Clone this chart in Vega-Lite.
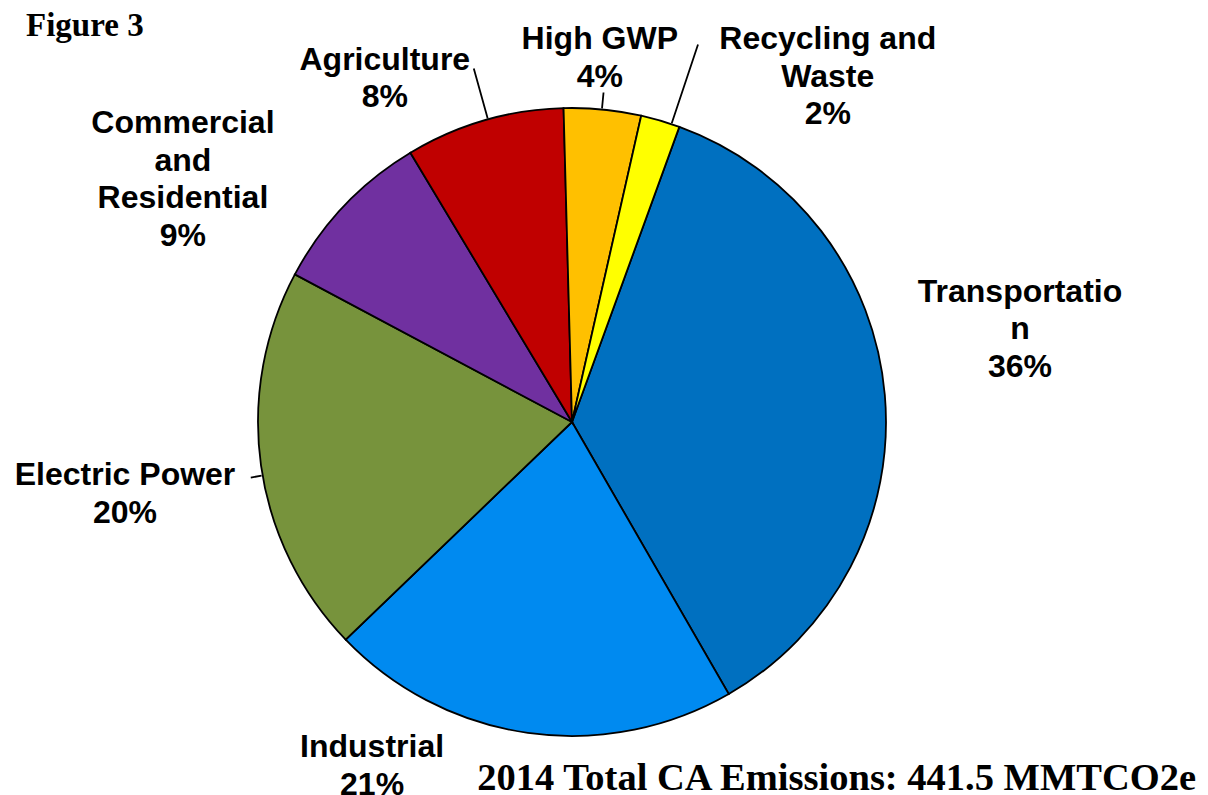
{
  "$schema": "https://vega.github.io/schema/vega-lite/v6.json",
  "padding": {"left": 0, "top": 10, "right": 0, "bottom": 0},
  "background": "white",
  "title": {
    "text": "Figure 3",
    "anchor": "start",
    "frame": "group",
    "font": "Liberation Serif",
    "fontSize": 33,
    "fontWeight": "bold",
    "color": "black",
    "baseline": "alphabetic",
    "offset": 0,
    "dx": 26,
    "dy": 46
  },
  "data": {
    "values": [
      {"category": "Transportation", "value": 159.5, "label": "Transportatio\nn\n36%"},
      {"category": "Industrial", "value": 93.3, "label": "Industrial\n21%"},
      {"category": "Electric Power", "value": 88.2, "label": "Electric Power\n20%"},
      {"category": "Commercial and Residential", "value": 38.0, "label": "Commercial\nand\nResidential\n9%"},
      {"category": "Agriculture", "value": 36.1, "label": "Agriculture\n8%"},
      {"category": "High GWP", "value": 17.5, "label": "High GWP\n4%"},
      {"category": "Recycling and Waste", "value": 8.9, "label": "Recycling and\nWaste\n2%"}
    ]
  },
  "vconcat": [
    {
      "width": 1144,
      "height": 746,
      "title": {
        "text": "2014 Total CA Emissions: 441.5 MMTCO2e",
        "orient": "bottom",
        "anchor": "end",
        "frame": "group",
        "font": "Liberation Serif",
        "fontSize": 38.5,
        "fontWeight": "bold",
        "color": "black",
        "baseline": "alphabetic",
        "offset": 0,
        "dx": 52,
        "dy": -11
      },
      "transform": [
        {"stack": "value", "groupby": [], "sort": [{"field": "value", "order": "descending"}], "as": ["v0", "v1"]}
      ],
      "layer": [
        {
          "mark": {"type": "arc", "outerRadius": 314, "stroke": "black", "strokeWidth": 1.8},
          "encoding": {
            "theta": {"field": "value", "type": "quantitative", "stack": true, "scale": {"range": [0.349, 6.632]}},
            "order": {"field": "value", "type": "quantitative", "sort": "descending"},
            "color": {
              "field": "category",
              "type": "nominal",
              "scale": {
                "domain": ["Transportation", "Industrial", "Electric Power", "Commercial and Residential", "Agriculture", "High GWP", "Recycling and Waste"],
                "range": ["#0070C0", "#008AF0", "#77933C", "#7030A0", "#C00000", "#FFC000", "#FFFF00"]
              },
              "legend": null
            }
          }
        },
        {
          "transform": [{"filter": "datum.category === 'Agriculture'"}],
          "mark": {"type": "arc", "innerRadius": 315, "outerRadius": 367, "thetaOffset": 0.2697, "theta2Offset": 0.2697, "fill": "transparent", "stroke": "black", "strokeWidth": 1.8},
          "encoding": {"theta": {"field": "v0", "type": "quantitative", "stack": null}, "theta2": {"field": "v0"}}
        },
        {
          "transform": [{"filter": "datum.category === 'High GWP'"}],
          "mark": {"type": "arc", "innerRadius": 315, "outerRadius": 331, "thetaOffset": 0.1223, "theta2Offset": 0.1223, "fill": "transparent", "stroke": "black", "strokeWidth": 1.8},
          "encoding": {"theta": {"field": "v0", "type": "quantitative", "stack": null}, "theta2": {"field": "v0"}}
        },
        {
          "transform": [{"filter": "datum.category === 'Recycling and Waste'"}],
          "mark": {"type": "arc", "innerRadius": 315, "outerRadius": 398, "thetaOffset": 0.1, "theta2Offset": 0.1, "fill": "transparent", "stroke": "black", "strokeWidth": 1.8},
          "encoding": {"theta": {"field": "v0", "type": "quantitative", "stack": null}, "theta2": {"field": "v0"}}
        },
        {
          "transform": [{"filter": "datum.category === 'Electric Power'"}],
          "mark": {"type": "arc", "innerRadius": 315, "outerRadius": 326, "thetaOffset": 0.5945, "theta2Offset": 0.5945, "fill": "transparent", "stroke": "black", "strokeWidth": 1.8},
          "encoding": {"theta": {"field": "v0", "type": "quantitative", "stack": null}, "theta2": {"field": "v0"}}
        },
        {
          "transform": [{"filter": "datum.category === 'Transportation'"}],
          "mark": {"type": "text", "radius": 466.5, "thetaOffset": 0.9393, "font": "Liberation Sans", "fontSize": 32, "fontWeight": "bold", "lineBreak": "\n", "lineHeight": 37.5, "align": "center", "baseline": "middle", "color": "black"},
          "encoding": {"theta": {"field": "v0", "type": "quantitative", "stack": null}, "text": {"field": "label"}}
        },
        {
          "transform": [{"filter": "datum.category === 'Industrial'"}],
          "mark": {"type": "text", "radius": 381.6, "thetaOffset": 1.0742, "font": "Liberation Sans", "fontSize": 32, "fontWeight": "bold", "lineBreak": "\n", "lineHeight": 37.5, "align": "center", "baseline": "middle", "color": "black"},
          "encoding": {"theta": {"field": "v0", "type": "quantitative", "stack": null}, "text": {"field": "label"}}
        },
        {
          "transform": [{"filter": "datum.category === 'Electric Power'"}],
          "mark": {"type": "text", "radius": 450.1, "thetaOffset": 0.6475, "font": "Liberation Sans", "fontSize": 32, "fontWeight": "bold", "lineBreak": "\n", "lineHeight": 37.5, "align": "center", "baseline": "middle", "color": "black"},
          "encoding": {"theta": {"field": "v0", "type": "quantitative", "stack": null}, "text": {"field": "label"}}
        },
        {
          "transform": [{"filter": "datum.category === 'Commercial and Residential'"}],
          "mark": {"type": "text", "radius": 490.6, "thetaOffset": 0.1656, "font": "Liberation Sans", "fontSize": 32, "fontWeight": "bold", "lineBreak": "\n", "lineHeight": 37.5, "align": "center", "baseline": "middle", "color": "black"},
          "encoding": {"theta": {"field": "v0", "type": "quantitative", "stack": null}, "text": {"field": "label"}}
        },
        {
          "transform": [{"filter": "datum.category === 'Agriculture'"}],
          "mark": {"type": "text", "radius": 407.9, "thetaOffset": 0.0639, "font": "Liberation Sans", "fontSize": 32, "fontWeight": "bold", "lineBreak": "\n", "lineHeight": 37.5, "align": "center", "baseline": "middle", "color": "black"},
          "encoding": {"theta": {"field": "v0", "type": "quantitative", "stack": null}, "text": {"field": "label"}}
        },
        {
          "transform": [{"filter": "datum.category === 'High GWP'"}],
          "mark": {"type": "text", "radius": 384.0, "thetaOffset": 0.0993, "font": "Liberation Sans", "fontSize": 32, "fontWeight": "bold", "lineBreak": "\n", "lineHeight": 37.5, "align": "center", "baseline": "middle", "color": "black"},
          "encoding": {"theta": {"field": "v0", "type": "quantitative", "stack": null}, "text": {"field": "label"}}
        },
        {
          "transform": [{"filter": "datum.category === 'Recycling and Waste'"}],
          "mark": {"type": "text", "radius": 460.3, "thetaOffset": 0.3670, "font": "Liberation Sans", "fontSize": 32, "fontWeight": "bold", "lineBreak": "\n", "lineHeight": 37.5, "align": "center", "baseline": "middle", "color": "black"},
          "encoding": {"theta": {"field": "v0", "type": "quantitative", "stack": null}, "text": {"field": "label"}}
        }
      ]
    }
  ],
  "config": {
    "view": {"stroke": null},
    "concat": {"spacing": 0}
  }
}
